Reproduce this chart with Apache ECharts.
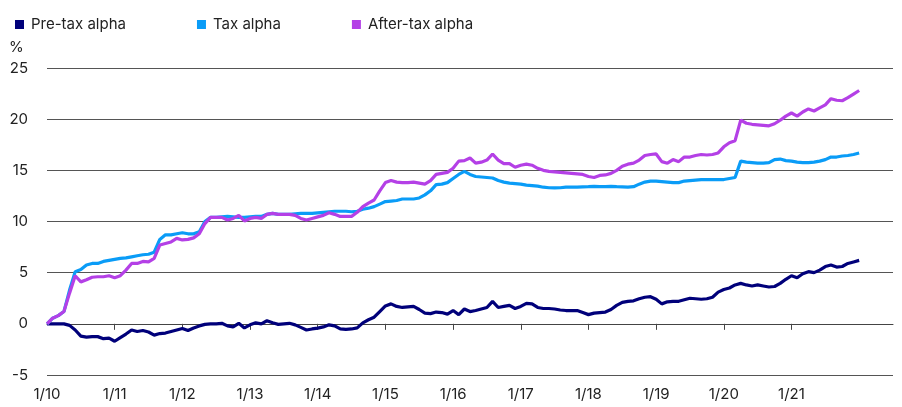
<!DOCTYPE html>
<html>
<head>
<meta charset="utf-8">
<script src="https://cdn.jsdelivr.net/npm/echarts@6/dist/echarts.min.js"></script>
<style>
  html, body { margin: 0; padding: 0; background: #fff; }
  #chart { width: 902px; height: 407px; }
</style>
</head>
<body>
<div id="chart"></div>
<script>
// monthly points, 1/10 .. 1/22
var startYear = 10;
var monthsOnAxis = 151;

var preTax = [
  0, 0, 0, 0, -0.15, -0.6, -1.2, -1.3, -1.25, -1.25, -1.45, -1.4,
  -1.7, -1.35, -1.0, -0.6, -0.75, -0.65, -0.8, -1.1, -0.95, -0.9, -0.75, -0.6,
  -0.45, -0.65, -0.4, -0.2, -0.05, 0, 0, 0.05, -0.2, -0.3, 0.05, -0.4,
  -0.1, 0.1, 0, 0.3, 0.1, -0.05, 0, 0.05, -0.1, -0.35, -0.6, -0.5,
  -0.42, -0.3, -0.1, -0.2, -0.5, -0.55, -0.5, -0.4, 0.1, 0.4, 0.65, 1.2,
  1.75, 1.95, 1.7, 1.6, 1.65, 1.7, 1.4, 1.05, 1.0, 1.15, 1.1, 0.95,
  1.3, 0.9, 1.45, 1.2, 1.3, 1.45, 1.6, 2.2, 1.6, 1.7, 1.8, 1.5,
  1.7, 2.0, 1.95, 1.6, 1.5, 1.5, 1.45, 1.35, 1.3, 1.3, 1.3, 1.1,
  0.9, 1.05, 1.1, 1.15, 1.4, 1.8, 2.1, 2.2, 2.25, 2.45, 2.6, 2.65,
  2.4, 1.95, 2.15, 2.2, 2.2, 2.35, 2.5, 2.45, 2.4, 2.45, 2.6, 3.1,
  3.35, 3.5, 3.8, 3.95, 3.8, 3.7, 3.8, 3.7, 3.6, 3.65, 3.95, 4.35,
  4.7, 4.5, 4.9, 5.1, 5.0, 5.25, 5.6, 5.75, 5.55, 5.6, 5.9, 6.05,
  6.2
];

var taxAlpha = [
  0, 0.55, 0.8, 1.2, 3.3, 5.1, 5.3, 5.75, 5.9, 5.9, 6.1, 6.2,
  6.3, 6.4, 6.45, 6.55, 6.65, 6.75, 6.8, 7.0, 8.25, 8.7, 8.7, 8.8,
  8.9, 8.8, 8.8, 9.0, 10.0, 10.4, 10.4, 10.45, 10.5, 10.45, 10.4, 10.4,
  10.45, 10.5, 10.5, 10.7, 10.8, 10.7, 10.7, 10.7, 10.75, 10.8, 10.8, 10.8,
  10.85, 10.9, 10.95, 11.0, 11.0, 11.0, 10.95, 11.0, 11.2, 11.3, 11.45, 11.7,
  11.95, 12.0, 12.05, 12.2, 12.2, 12.2, 12.3, 12.6, 13.0, 13.6, 13.65, 13.8,
  14.2, 14.6, 14.9, 14.6, 14.4, 14.35, 14.3, 14.25, 14.0, 13.85, 13.75, 13.7,
  13.65, 13.55, 13.5, 13.45, 13.35, 13.3, 13.28, 13.3, 13.35, 13.35, 13.35, 13.38,
  13.4, 13.43, 13.4, 13.4, 13.43, 13.4, 13.38, 13.35, 13.4, 13.65, 13.85, 13.95,
  13.95, 13.9, 13.85, 13.8, 13.8, 13.95, 14.0, 14.05, 14.1, 14.1, 14.1, 14.1,
  14.1, 14.2, 14.3, 15.9, 15.8, 15.75, 15.7, 15.7, 15.75, 16.05, 16.1, 15.95,
  15.9, 15.8, 15.75, 15.75, 15.8, 15.9, 16.05, 16.3, 16.3, 16.4, 16.45, 16.55,
  16.7
];

var afterTax = [
  0, 0.55, 0.8, 1.2, 3.0, 4.7, 4.1, 4.3, 4.55, 4.6, 4.6, 4.7,
  4.5, 4.7, 5.25, 5.9, 5.9, 6.1, 6.05, 6.4, 7.7, 7.85, 8.0, 8.35,
  8.2, 8.25, 8.4, 8.8, 9.8, 10.4, 10.4, 10.4, 10.15, 10.3, 10.6, 10.05,
  10.3, 10.4, 10.3, 10.7, 10.8, 10.7, 10.7, 10.7, 10.6, 10.3, 10.15, 10.3,
  10.45, 10.6, 10.85, 10.7, 10.5, 10.5, 10.5, 10.9, 11.45, 11.8, 12.1, 13.0,
  13.8, 14.0, 13.85, 13.8, 13.8, 13.85, 13.75, 13.65, 14.0, 14.6, 14.7, 14.8,
  15.2, 15.9, 15.95, 16.2, 15.7, 15.8, 16.0, 16.6, 16.0, 15.65, 15.65, 15.3,
  15.5, 15.6, 15.5, 15.2, 15.0, 14.9, 14.85, 14.8, 14.75, 14.7, 14.65, 14.6,
  14.4, 14.3, 14.5, 14.55, 14.7, 15.0, 15.4, 15.6, 15.7, 16.0, 16.45, 16.55,
  16.6, 15.85, 15.7, 16.05, 15.85, 16.3, 16.3, 16.45, 16.55, 16.5, 16.55, 16.7,
  17.3, 17.7, 17.9, 19.9, 19.6, 19.5, 19.45, 19.4, 19.35, 19.55, 19.9, 20.3,
  20.6, 20.3, 20.7, 21.0, 20.8, 21.1, 21.4, 22.0, 21.85, 21.8, 22.1, 22.45,
  22.8
];

var xTickLabels = ['1/10', '1/11', '1/12', '1/13', '1/14', '1/15', '1/16', '1/17', '1/18', '1/19', '1/20', '1/21'];
var yTicks = [-5, 0, 5, 10, 15, 20, 25];

var seriesNames = ['Pre-tax alpha', 'Tax alpha', 'After-tax alpha'];
var colors = ['#00007a', '#0a9cf7', '#b440e6'];

var categories = [];
for (var i = 0; i < monthsOnAxis; i++) {
    var m = (i % 12) + 1;
    var y = startYear + Math.floor(i / 12);
    categories.push(m + '/' + y);
}

function isYearTick(index) {
    return index % 12 === 0 && xTickLabels.indexOf(categories[index]) >= 0;
}

var font = 'Inter, Roboto, sans-serif';
var myChart = echarts.init(document.getElementById('chart'));

var option = {
    animation: false,
    color: colors,
    textStyle: { fontFamily: font },
    legend: {
        left: 10,
        top: 12,
        icon: 'rect',
        itemWidth: 9,
        itemHeight: 9,
        itemGap: 71,
        textStyle: { fontSize: 15, color: '#222', fontFamily: font, padding: [0, 0, 0, 2] },
        data: seriesNames
    },
    graphic: [{
        type: 'text',
        left: 9,
        top: 40,
        style: { text: '%', fontSize: 15, fill: '#222', fontFamily: font }
    }],
    grid: { left: 47, right: 9, top: 68, bottom: 32 },
    xAxis: [{
        type: 'category',
        data: categories,
        boundaryGap: false,
        position: 'bottom',
        axisLine: { show: false, onZero: false },
        axisTick: { show: false },
        axisLabel: {
            interval: function (index) { return isYearTick(index); },
            fontSize: 15,
            color: '#222',
            margin: 12,
            fontFamily: font
        },
        splitLine: { show: false }
    }, {
        type: 'category',
        data: categories,
        boundaryGap: false,
        position: 'top',
        axisLine: { show: true, onZero: true, lineStyle: { color: '#444', width: 1 } },
        axisTick: {
            show: true,
            inside: true,
            length: 6,
            interval: function (index) { return index > 0 && isYearTick(index); },
            lineStyle: { color: '#444', width: 1 }
        },
        axisLabel: { show: false },
        splitLine: { show: false }
    }],
    yAxis: {
        type: 'value',
        min: yTicks[0],
        max: yTicks[yTicks.length - 1],
        interval: 5,
        axisLine: { show: false },
        axisTick: { show: false },
        axisLabel: { fontSize: 15, color: '#222', margin: 19, fontFamily: font },
        splitLine: { lineStyle: { color: '#555', width: 1 } }
    },
    series: [preTax, taxAlpha, afterTax].map(function (d, k) {
        return {
            name: seriesNames[k],
            type: 'line',
            xAxisIndex: 0,
            data: d,
            symbol: 'none',
            lineStyle: { width: 3.2, color: colors[k] },
            itemStyle: { color: colors[k] },
            z: 3 + k
        };
    })
};

myChart.setOption(option);
</script>
</body>
</html>
